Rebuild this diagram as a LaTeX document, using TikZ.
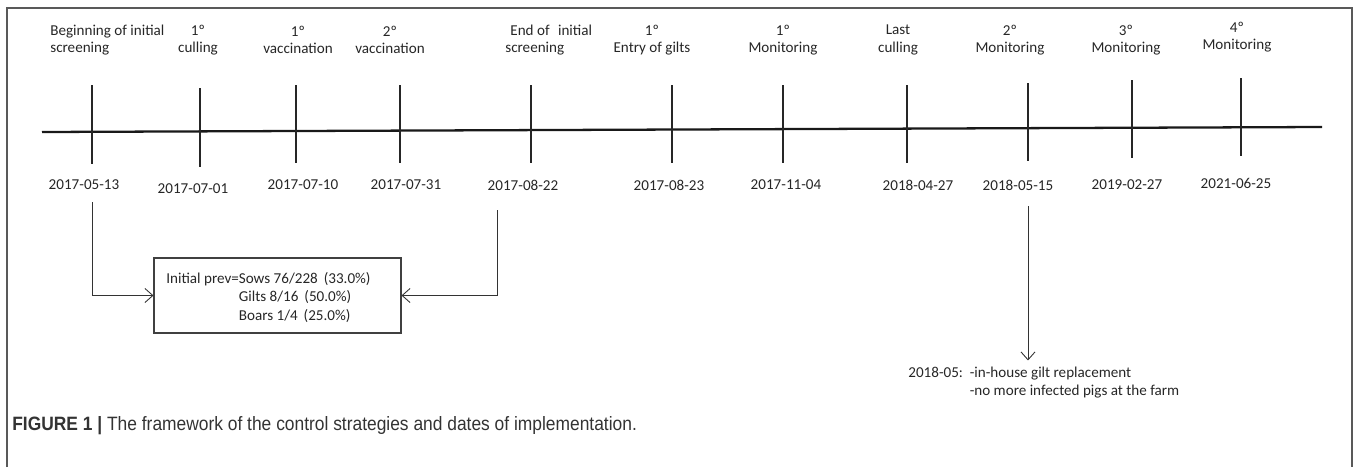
\documentclass[tikz,border=0pt]{standalone}
\usepackage{fontspec}
\setmainfont{Carlito}
\newfontfamily\capfont[FakeStretch=0.9]{Liberation Sans}
\usetikzlibrary{arrows.meta}

\begin{document}
\begin{tikzpicture}[x=0.02cm,y=-0.02cm,
    >={Straight Barb[length=4.5pt,width=8pt]},
    every node/.style={font=\fontsize{8.6}{9.8}\selectfont, text=black!85, inner sep=0pt},
    event/.style={align=center},
    date/.style={},
    tick/.style={line width=0.6pt, black!85},
    link/.style={->, line width=0.5pt, black!80}]
  \useasboundingbox (0,0) rectangle (1357,467);
  % frame, open at the bottom
  \draw[black!65, line width=1.2pt] (7,467) -- (7,8) -- (1352,8) -- (1352,467);

  % time axis
  \draw[line width=1.3pt, black!90] (42,132) -- (1322,127);
  \foreach \x/\a/\b in {92/85/164, 200/88/167, 296/85/163, 400/85/163,
      531/85/163, 672/85/163, 783/85/163, 907/85/163, 1028/83/161,
      1132/80/158, 1241/78/156}
    \draw[tick] (\x,\a) -- (\x,\b);

  % events
  \node[anchor=west, align=left] (e1) at (50,40) {Beginning of initial\\screening};
  \node[event] (e2) at (198,40) {1º\\culling};
  \node[event] (e3) at (298,40) {1º\\vaccination};
  \node[event] (e4) at (390,40) {2º\\vaccination};
  \node[anchor=west, align=left] (e5) at (505,40) {\,\,End of\,\, initial\\screening};
  \node[event] (e6) at (652,40) {1º\\Entry of gilts};
  \node[event] (e7) at (783,40) {1º\\Monitoring};
  \node[event] (e8) at (898,40) {Last\\culling};
  \node[event] (e9) at (1010,40) {2º\\Monitoring};
  \node[event] (e10) at (1126,40) {3º\\Monitoring};
  \node[event] (e11) at (1237,37) {4º\\Monitoring};

  % dates
  \node[date] (d1) at (84,185) {2017-05-13};
  \node[date] (d2) at (193,189) {2017-07-01};
  \node[date] (d3) at (303,185) {2017-07-10};
  \node[date] (d4) at (406,185) {2017-07-31};
  \node[date] (d5) at (523,185) {2017-08-22};
  \node[date] (d6) at (669,185) {2017-08-23};
  \node[date] (d7) at (786,185) {2017-11-04};
  \node[date] (d8) at (918,185) {2018-04-27};
  \node[date] (d9) at (1018,185) {2018-05-15};
  \node[date] (d10) at (1127,185) {2019-02-27};
  \node[date] (d11) at (1236,183) {2021-06-25};

  % prevalence box
  \node[draw=black!75, line width=0.6pt, minimum width=4.94cm, minimum height=1.5cm]
    (prev) at (277.5,295.5) {};
  \node[anchor=base west] (prevtext) at (166,283)
    {\renewcommand{\arraystretch}{1.1}%
     \begin{tabular}[t]{@{}l@{}l@{}}
       Initial prev=&Sows 76/228 \,(33.0\%)\\
       &Gilts 8/16 \,(50.0\%)\\
       &Boars 1/4 \,(25.0\%)
     \end{tabular}};
  \coordinate (a1) at (92,202);
  \coordinate (a2) at (497,210);
  \draw[link] (a1) |- (prev.west);
  \draw[link] (a2) |- (prev.east);

  % note on 2018-05
  \node[anchor=base west] (note) at (908,377)
    {\renewcommand{\arraystretch}{1.05}%
     \begin{tabular}[t]{@{}l@{}l@{}}
       2018-05:\ \ \ &-in-house gilt replacement\\
       &-no more infected pigs at the farm
     \end{tabular}};
  \coordinate (a3) at (1028,206);
  \draw[link] (a3) -- ([yshift=2pt]a3 |- note.north);

  % caption
  \node[anchor=west, font=\capfont\fontsize{11}{13}\selectfont, text=black!80]
    (cap) at (12,426)
    {\textbf{FIGURE 1 \textbar}\ The framework of the control strategies and dates of implementation.};
\end{tikzpicture}
\end{document}
